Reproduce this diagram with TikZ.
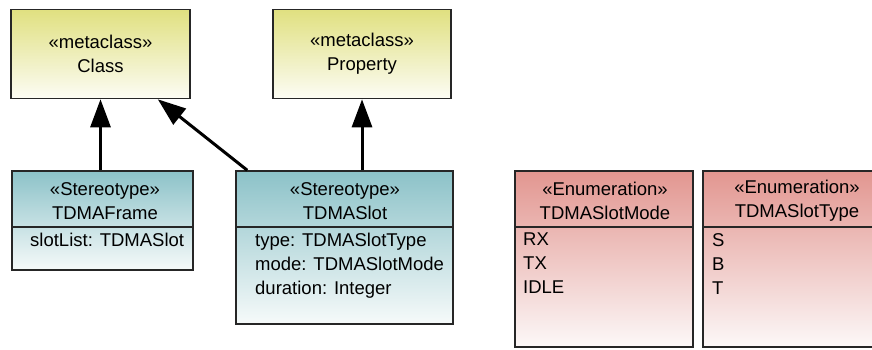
\documentclass[tikz,border=0pt]{standalone}
\usepackage{fontspec}
\setmainfont{Liberation Sans}
\usetikzlibrary{arrows.meta}

\definecolor{metatop}{RGB}{224,224,128}
\definecolor{metabot}{RGB}{252,252,244}
\definecolor{stereotop}{RGB}{140,194,200}
\definecolor{stereobot}{RGB}{246,250,250}
\definecolor{enumtop}{RGB}{226,150,144}
\definecolor{enumbot}{RGB}{252,248,248}
\newcommand{\umlfont}{\fontsize{18.5}{24}\selectfont}

\tikzset{
  umlbox/.style={draw=black!85, line width=1.6pt, inner sep=0pt},
  metabox/.style={umlbox, top color=metatop, bottom color=metabot,
    minimum height=89pt, align=center, font=\umlfont},
  stereobox/.style={umlbox, top color=stereotop, bottom color=stereobot},
  enumbox/.style={umlbox, top color=enumtop, bottom color=enumbot,
    minimum width=178pt, minimum height=176pt},
  headtext/.style={align=center, inner sep=0pt, font=\umlfont},
  attrtext/.style={anchor=north west, align=left, inner sep=0pt, font=\umlfont},
  divider/.style={line width=1.2pt, draw=black!85},
  extends/.style={line width=3pt, -{Triangle[length=28pt,width=20pt]}}
}

\begin{document}
\begin{tikzpicture}[x=1pt,y=-1pt]
  \useasboundingbox (0,0) rectangle (872,349);
  \clip (0,0) rectangle (872,349);

  % metaclasses
  \node[metabox, minimum width=179pt] (class) at (100.5,54) {«metaclass»\\Class};
  \node[metabox, minimum width=178pt] (property) at (362,54) {«metaclass»\\Property};

  % stereotypes
  \node[stereobox, minimum width=181pt, minimum height=99pt] (frame) at (102.5,220.5) {};
  \node[headtext] (frametitle) at (105,201) {«Stereotype»\\TDMAFrame};
  \draw[divider] (frame.west |- 0,227) -- (frame.east |- 0,227);
  \node[attrtext] (frameattr) at (30,233) {slotList: TDMASlot};

  \node[stereobox, minimum width=217pt, minimum height=153pt] (slot) at (344.5,247.5) {};
  \node[headtext] (slottitle) at (345,201) {«Stereotype»\\TDMASlot};
  \draw[divider] (slot.west |- 0,227) -- (slot.east |- 0,227);
  \node[attrtext] (slotattr) at (255,233) {type: TDMASlotType\\mode: TDMASlotMode\\duration: Integer};

  % enumerations
  \node[enumbox] (mode) at (604,259) {};
  \node[headtext] (modetitle) at (605,201) {«Enumeration»\\TDMASlotMode};
  \draw[divider] (mode.west |- 0,227) -- (mode.east |- 0,227);
  \node[attrtext] (modelits) at (523,233) {RX\\TX\\IDLE};

  \node[enumbox, minimum width=188pt] (type) at (797,259) {};
  \node[headtext] (typetitle) at (797,201) {«Enumeration»\\TDMASlotType};
  \draw[divider] (type.west |- 0,227) -- (type.east |- 0,227);
  \node[attrtext] (typelits) at (712,233) {S\\B\\T};

  % generalisations
  \draw[extends] (frame.north -| class.south) -- (class.south);
  \draw[extends] (slot.north -| property.south) -- (property.south);
  \draw[extends] ([xshift=12pt]slot.north west) -- ([xshift=-33pt]class.south east);
\end{tikzpicture}
\end{document}
